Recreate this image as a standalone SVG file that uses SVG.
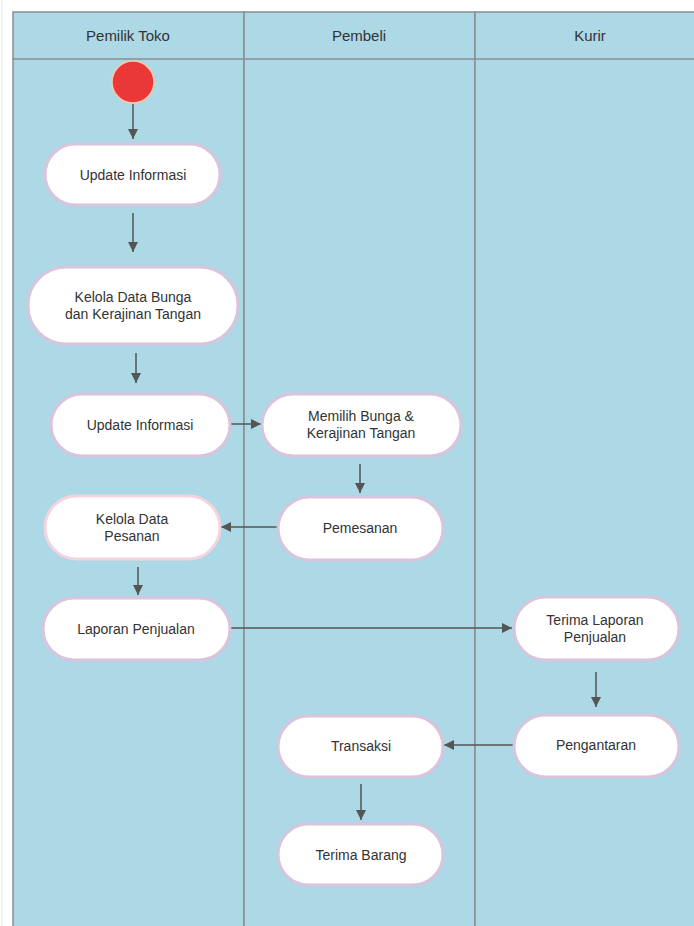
<svg xmlns="http://www.w3.org/2000/svg" width="694" height="926" viewBox="0 0 694 926">
<style>
.lane{fill:#ADD8E6;stroke:#8a8f91;stroke-width:1.5}
.node{fill:#fff;stroke:#D8C4DC;stroke-width:3}
.t{font-family:"Liberation Sans",Arial,sans-serif;font-size:14px;fill:#333;text-anchor:middle}
.h{font-family:"Liberation Sans",Arial,sans-serif;font-size:15px;fill:#333;text-anchor:middle}
.c{stroke:#555;stroke-width:1.5;fill:none;marker-end:url(#ah)}
</style>
<defs>
<marker id="ah" viewBox="0 0 10 10" refX="10" refY="5" markerWidth="10" markerHeight="10" markerUnits="userSpaceOnUse" orient="auto">
<path d="M0,0 L10,5 L0,10 z" fill="#555"/>
</marker>
</defs>
<rect width="694" height="926" fill="#fff"/>
<line x1="2" y1="0" x2="2" y2="926" stroke="#e6e6e6" stroke-width="1"/>
<g id="lanes">
<rect class="lane" x="13" y="12" width="231" height="920"/>
<rect class="lane" x="244" y="12" width="231" height="920"/>
<rect class="lane" x="475" y="12" width="231" height="920"/>
<line x1="13" y1="59" x2="694" y2="59" stroke="#8a8f91" stroke-width="1.5"/>
<text class="h" x="128" y="41">Pemilik Toko</text>
<text class="h" x="359" y="41">Pembeli</text>
<text class="h" x="590" y="41">Kurir</text>
</g>
<g id="connectors">
<line class="c" x1="133" y1="104" x2="133" y2="139"/>
<line class="c" x1="133" y1="213" x2="133" y2="252"/>
<line class="c" x1="136" y1="353" x2="136" y2="383"/>
<line class="c" x1="230" y1="424" x2="261" y2="424"/>
<line class="c" x1="360" y1="464" x2="360" y2="493"/>
<line class="c" x1="277" y1="527" x2="221" y2="527"/>
<line class="c" x1="138" y1="567" x2="138" y2="595"/>
<line class="c" x1="231" y1="628" x2="512" y2="628"/>
<line class="c" x1="596" y1="672" x2="596" y2="707"/>
<line class="c" x1="513" y1="745" x2="444" y2="745"/>
<line class="c" x1="361" y1="784" x2="361" y2="820"/>
</g>
<g id="start"><circle cx="133" cy="82" r="21" fill="#EA3838" stroke="#F6C9A8" stroke-width="1.5"/></g>
<g id="n1"><rect class="node" x="45" y="144" width="175" height="61" rx="30.5"/><text class="t" x="133" y="180">Update Informasi</text></g>
<g id="n2"><rect class="node" x="28" y="267" width="210" height="77" rx="38"/><text class="t" x="133" y="302">Kelola Data Bunga</text><text class="t" x="133" y="319">dan Kerajinan Tangan</text></g>
<g id="n3"><rect class="node" x="51" y="394" width="179" height="62" rx="31"/><text class="t" x="140" y="430">Update Informasi</text></g>
<g id="n4"><rect class="node" x="262" y="394" width="199" height="62" rx="31"/><text class="t" x="361" y="421">Memilih Bunga &amp;</text><text class="t" x="361" y="438">Kerajinan Tangan</text></g>
<g id="n5"><rect class="node" x="278" y="497" width="165" height="63" rx="31.5"/><text class="t" x="360" y="533">Pemesanan</text></g>
<g id="n6"><rect class="node" x="45" y="496" width="175" height="63" rx="31.5" style="stroke:#F5D3E0"/><text class="t" x="132" y="524">Kelola Data</text><text class="t" x="132" y="541">Pesanan</text></g>
<g id="n7"><rect class="node" x="43" y="598" width="187" height="62" rx="31"/><text class="t" x="136" y="634">Laporan Penjualan</text></g>
<g id="n8"><rect class="node" x="514" y="597" width="165" height="63" rx="31.5"/><text class="t" x="595" y="625">Terima Laporan</text><text class="t" x="595" y="642">Penjualan</text></g>
<g id="n9"><rect class="node" x="514" y="715" width="165" height="62" rx="31"/><text class="t" x="596" y="750">Pengantaran</text></g>
<g id="n10"><rect class="node" x="278" y="716" width="165" height="61" rx="30.5"/><text class="t" x="361" y="751">Transaksi</text></g>
<g id="n11"><rect class="node" x="278" y="824" width="165" height="61" rx="30.5"/><text class="t" x="361" y="860">Terima Barang</text></g>
</svg>
